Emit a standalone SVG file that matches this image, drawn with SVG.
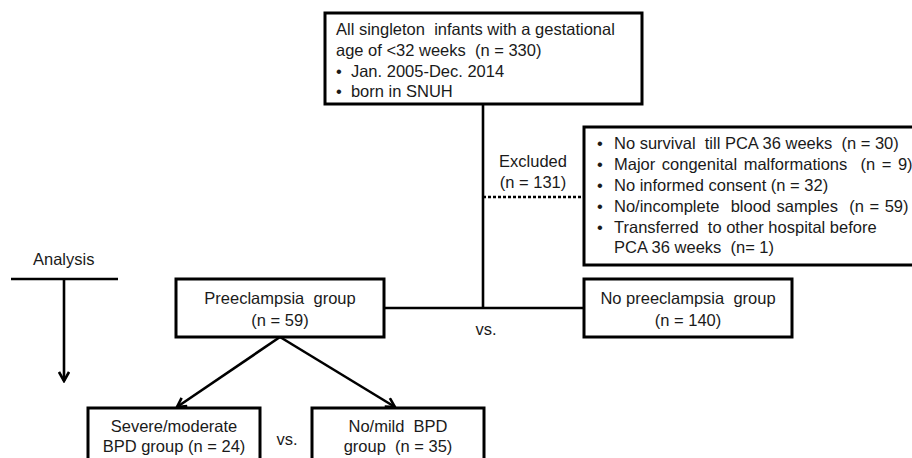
<svg xmlns="http://www.w3.org/2000/svg" width="912" height="458" viewBox="0 0 912 458">
<style>
text{font-family:"Liberation Sans",Arial,sans-serif;font-size:16.5px;fill:#1a1a1a;white-space:pre}
.c{text-anchor:middle}
.box{fill:#fff;stroke:#000;stroke-width:3}
.ln{fill:none;stroke:#000;stroke-width:2.6}
</style>
<defs>
<marker id="ah" viewBox="0 0 12 12" refX="10" refY="6" markerWidth="12" markerHeight="12" markerUnits="userSpaceOnUse" orient="auto">
<path d="M1,1 L10,6 L1,11" fill="none" stroke="#000" stroke-width="2.6"/>
</marker>
</defs>
<rect width="912" height="458" fill="#fff"/>
<g id="connectors">
<line class="ln" x1="483" y1="104" x2="483" y2="308"/>
<line class="ln" x1="384" y1="308" x2="584" y2="308"/>
<line class="ln" x1="483" y1="197" x2="584" y2="197" stroke-dasharray="3 2"/>
<line class="ln" x1="280" y1="337" x2="177" y2="407" marker-end="url(#ah)"/>
<line class="ln" x1="280" y1="337" x2="395" y2="407" marker-end="url(#ah)"/>
<line class="ln" x1="11" y1="279" x2="118" y2="279"/>
<line class="ln" x1="64" y1="279" x2="64" y2="381" marker-end="url(#ah)"/>
</g>
<g id="label-excluded">
<text class="c" x="533" y="167">Excluded</text>
<text class="c" x="533" y="188">(n = 131)</text>
</g>
<g id="label-vs1"><text class="c" x="486" y="335">vs.</text></g>
<g id="label-vs2"><text class="c" x="287" y="445">vs.</text></g>
<g id="label-analysis"><text x="33" y="265">Analysis</text></g>
<g id="node-all">
<rect class="box" x="325" y="13" width="317" height="91"/>
<text x="336" y="35">All singleton  infants with a gestational</text>
<text x="336" y="56">age of &lt;32 weeks  (n = 330)</text>
<text x="336" y="76.5">•  Jan. 2005-Dec. 2014</text>
<text x="336" y="97">•  born in SNUH</text>
</g>
<g id="node-excluded">
<rect class="box" x="584" y="127" width="340" height="138"/>
<text x="597" y="149">•</text><text x="614" y="149">No survival  till PCA 36 weeks  (n = 30)</text>
<text x="597" y="170">•</text><text x="614" y="170" word-spacing="2">Major congenital malformations  (n = 9)</text>
<text x="597" y="191">•</text><text x="614" y="191">No informed consent (n = 32)</text>
<text x="597" y="212">•</text><text x="614" y="212" word-spacing="1">No/incomplete  blood samples  (n = 59)</text>
<text x="597" y="233">•</text><text x="614" y="233">Transferred  to other hospital before</text>
<text x="614" y="253">PCA 36 weeks  (n= 1)</text>
</g>
<g id="node-preeclampsia">
<rect class="box" x="176" y="279" width="208" height="58"/>
<text class="c" x="280" y="304">Preeclampsia  group</text>
<text class="c" x="280" y="326">(n = 59)</text>
</g>
<g id="node-no-preeclampsia">
<rect class="box" x="584" y="279" width="208" height="58"/>
<text class="c" x="688" y="304">No preeclampsia  group</text>
<text class="c" x="688" y="326">(n = 140)</text>
</g>
<g id="node-severe">
<rect class="box" x="88" y="408" width="172" height="60"/>
<text class="c" x="174" y="432">Severe/moderate</text>
<text class="c" x="174" y="452">BPD group (n = 24)</text>
</g>
<g id="node-mild">
<rect class="box" x="312" y="408" width="172" height="60"/>
<text class="c" x="398" y="432">No/mild  BPD</text>
<text class="c" x="398" y="452">group  (n = 35)</text>
</g>
</svg>
